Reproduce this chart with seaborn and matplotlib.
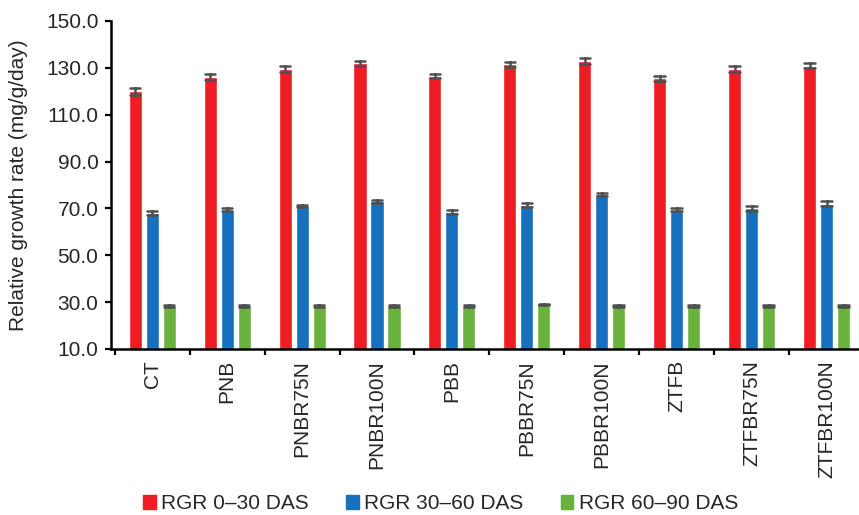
import numpy as np
import pandas as pd
import matplotlib
matplotlib.use("Agg")
import matplotlib.pyplot as plt
import seaborn as sns

treatments = ["CT", "PNB", "PNBR75N", "PNBR100N", "PBB", "PBBR75N",
              "PBBR100N", "ZTFB", "ZTFBR75N", "ZTFBR100N"]
series = ["RGR 0\u201330 DAS", "RGR 30\u201360 DAS", "RGR 60\u201390 DAS"]

rgr_0_30 = [120.0, 126.0, 129.5, 132.0, 126.5, 131.5, 133.0, 125.5, 129.5, 131.0]
rgr_0_30_err = [1.5, 1.3, 1.2, 1.0, 1.0, 1.0, 1.2, 1.0, 1.3, 1.0]
rgr_30_60 = [68.0, 69.5, 71.0, 73.0, 68.5, 71.5, 76.0, 69.5, 70.0, 72.0]
rgr_30_60_err = [1.0, 0.5, 0.5, 0.5, 1.0, 1.0, 0.5, 0.5, 1.0, 1.0]
rgr_60_90 = [28.2, 28.5, 28.5, 28.5, 28.5, 29.0, 28.5, 28.5, 28.5, 28.5]
rgr_60_90_err = [0.4, 0.4, 0.4, 0.4, 0.4, 0.4, 0.4, 0.4, 0.4, 0.4]

yticks = [10, 30, 50, 70, 90, 110, 130, 150]
colors = ["#EE1D23", "#1670BE", "#6AB23E"]

# Long table: each mean +/- its error as two rows, so the min/max range
# reproduces the error bar around the mean.
rows = []
for name, means, errs in zip(series, [rgr_0_30, rgr_30_60, rgr_60_90],
                             [rgr_0_30_err, rgr_30_60_err, rgr_60_90_err]):
    for t, m, e in zip(treatments, means, errs):
        rows.append({"Treatment": t, "Series": name, "RGR": m - e})
        rows.append({"Treatment": t, "Series": name, "RGR": m + e})
df = pd.DataFrame(rows)

sns.set_style("white")
plt.rcParams["font.family"] = ["Liberation Sans", "DejaVu Sans"]

fig = plt.figure(figsize=(8.59, 5.15), dpi=100)
ax = fig.add_axes([111 / 859, 1 - 349 / 515, 753 / 859, 328 / 515])

sns.barplot(data=df, x="Treatment", y="RGR", hue="Series",
            order=treatments, hue_order=series, palette=colors,
            estimator="mean", errorbar=lambda v: (v.min(), v.max()),
            width=0.68, gap=0.23, capsize=0.42,
            err_kws={"color": "#505050", "linewidth": 1.8},
            saturation=1, ax=ax)

ax.set_xlim(-0.55, 9.5)
ax.set_ylim(10, 150)
ax.set_yticks(yticks)
ax.set_yticklabels([f"{v:.1f}" for v in yticks], fontsize=15)
ax.set_xticks(range(len(treatments)))
ax.set_xticklabels(treatments, rotation=90, fontsize=15)
ax.set_xticks(np.arange(-0.5, 9.5, 1.0), minor=True)
ax.tick_params(axis="x", which="major", length=0, pad=8)
ax.tick_params(axis="x", which="minor", length=4, width=1.6, color="black",
               direction="out", bottom=True)
ax.tick_params(axis="y", which="major", length=4, width=1.6, color="black",
               direction="out", left=True, pad=5)
ax.set_xlabel("")
ax.set_ylabel("Relative growth rate (mg/g/day)", fontsize=15, labelpad=13)

for side in ["top", "right"]:
    ax.spines[side].set_visible(False)
for side in ["left", "bottom"]:
    ax.spines[side].set_linewidth(1.8)
    ax.spines[side].set_color("black")

ax.get_legend().remove()
handles = [plt.Rectangle((0, 0), 1, 1, color=c) for c in colors]
fig.legend(handles, series, loc="center", bbox_to_anchor=(0.513, 0.022),
           ncol=3, frameon=False, fontsize=15, handlelength=0.6,
           handleheight=0.7, handletextpad=0.25, columnspacing=1.8,
           borderpad=0.1)

fig.savefig("out.png", dpi=100)
